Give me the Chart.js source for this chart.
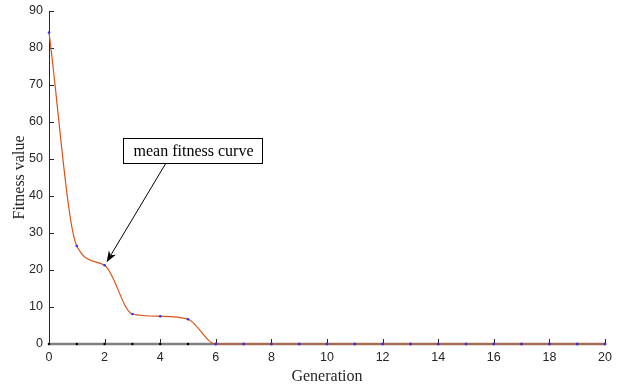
<!DOCTYPE html>
<html>
<head>
<meta charset="utf-8">
<script src="https://cdn.jsdelivr.net/npm/chart.js@4"></script>
<style>
  html, body { margin: 0; padding: 0; background: #fff; }
  #wrap { width: 623px; height: 386px; }
</style>
</head>
<body>
<div id="wrap"><canvas id="fitChart" width="623" height="386"></canvas></div>
<script>
// generations 0..20
var generations = [0, 1, 2, 3, 4, 5, 6, 7, 8, 9, 10, 11, 12, 13, 14, 15, 16, 17, 18, 19, 20];
// mean fitness per generation
var meanFitness = [84.2, 26.5, 21.3, 8.1, 7.5, 6.7, 0, 0, 0, 0, 0, 0, 0, 0, 0, 0, 0, 0, 0, 0, 0];
// best fitness per generation
var bestFitness = [0, 0, 0, 0, 0, 0, 0, 0, 0, 0, 0, 0, 0, 0, 0, 0, 0, 0, 0, 0, 0];
var xTicks = [0, 2, 4, 6, 8, 10, 12, 14, 16, 18, 20];
var yTicks = [0, 10, 20, 30, 40, 50, 60, 70, 80, 90];
var noteText = "mean fitness curve";
var noteGen = 2;

function toPoints(xs, ys) {
    var pts = [];
    for (var i = 0; i < xs.length; i++) {
        pts.push({x: xs[i], y: ys[i]});
    }
    return pts;
}

/**
 * Axis lines, inward ticks and the text arrow
 */
var axesPlugin = {
    id: 'axesPlugin',
    beforeDatasetsDraw: function(chart) {
        var ctx = chart.ctx;
        var xs = chart.scales.x, ys = chart.scales.y;
        var area = chart.chartArea;
        ctx.save();
        ctx.strokeStyle = '#262626';
        ctx.lineWidth = 1;
        ctx.beginPath();
        ctx.moveTo(area.left + 0.5, area.top);
        ctx.lineTo(area.left + 0.5, area.bottom + 0.5);
        ctx.lineTo(area.right, area.bottom + 0.5);
        // inward ticks
        xTicks.forEach(function(v) {
            var px = Math.round(xs.getPixelForValue(v)) + 0.5;
            ctx.moveTo(px, area.bottom);
            ctx.lineTo(px, area.bottom - 5);
        });
        yTicks.forEach(function(v) {
            var py = Math.round(ys.getPixelForValue(v)) + 0.5;
            ctx.moveTo(area.left, py);
            ctx.lineTo(area.left + 5, py);
        });
        ctx.stroke();
        ctx.restore();
    },
    afterDraw: function(chart) {
        var ctx = chart.ctx;
        var xs = chart.scales.x, ys = chart.scales.y;
        // text box
        var bx = 123, by = 138, bw = 139, bh = 25;
        ctx.save();
        ctx.fillStyle = '#fff';
        ctx.fillRect(bx, by, bw, bh);
        ctx.strokeStyle = '#000';
        ctx.lineWidth = 1;
        ctx.strokeRect(bx + 0.5, by + 0.5, bw, bh);
        ctx.fillStyle = '#000';
        ctx.font = '16px "Liberation Serif", "Times New Roman", serif';
        ctx.textAlign = 'center';
        ctx.textBaseline = 'middle';
        ctx.fillText(noteText, bx + bw / 2 + 1, by + bh / 2 + 1);

        // arrow to the curve
        var tx = xs.getPixelForValue(noteGen) + 2;
        var ty = ys.getPixelForValue(meanFitness[noteGen]) - 3;
        var sx = 166, sy = by + bh;
        var ang = Math.atan2(ty - sy, tx - sx);
        ctx.beginPath();
        ctx.moveTo(sx, sy);
        ctx.lineTo(tx - 8 * Math.cos(ang), ty - 8 * Math.sin(ang));
        ctx.stroke();
        ctx.beginPath();
        ctx.moveTo(tx, ty);
        ctx.lineTo(tx - 12 * Math.cos(ang - 0.35), ty - 12 * Math.sin(ang - 0.35));
        ctx.lineTo(tx - 8 * Math.cos(ang), ty - 8 * Math.sin(ang));
        ctx.lineTo(tx - 12 * Math.cos(ang + 0.35), ty - 12 * Math.sin(ang + 0.35));
        ctx.closePath();
        ctx.fill();
        ctx.restore();
    }
};

function makeChart() {
    var ctx = document.getElementById("fitChart").getContext("2d");
    var tickFont = {family: '"Liberation Sans", Helvetica, Arial, sans-serif', size: 12.5};
    var titleFont = {family: '"Liberation Serif", "Times New Roman", serif', size: 16};

    new Chart(ctx, {
        type: 'line',
        data: {
            datasets: [{
                label: 'best fitness',
                data: toPoints(generations, bestFitness),
                borderColor: '#808080',
                borderWidth: 2.5,
                pointRadius: 1.3,
                pointBackgroundColor: '#000',
                pointBorderColor: '#000',
                pointBorderWidth: 0,
                cubicInterpolationMode: 'monotone',
                fill: false,
                clip: false,
                order: 2
            }, {
                label: 'mean fitness',
                data: toPoints(generations, meanFitness),
                borderColor: '#D95319',
                borderWidth: 1.2,
                pointRadius: 1.3,
                pointBackgroundColor: '#3030ff',
                pointBorderColor: '#3030ff',
                pointBorderWidth: 0,
                cubicInterpolationMode: 'monotone',
                fill: false,
                clip: false,
                order: 1
            }]
        },
        options: {
            responsive: false,
            animation: false,
            events: [],
            layout: {padding: {top: 11, right: 18, left: 0, bottom: 0}},
            plugins: {legend: {display: false}, tooltip: {enabled: false}},
            scales: {
                x: {
                    type: 'linear',
                    min: 0, max: 20,
                    border: {display: false},
                    grid: {display: false, drawTicks: false},
                    afterBuildTicks: function(s) { s.ticks = xTicks.map(function(v) { return {value: v}; }); },
                    afterFit: function(s) { s.height = 42; s.paddingLeft = 0; s.paddingRight = 0; },
                    ticks: {color: '#262626', font: tickFont, padding: 6, maxRotation: 0, autoSkip: false},
                    title: {display: true, text: 'Generation', color: '#262626', font: titleFont, padding: {top: 0, bottom: 0}}
                },
                y: {
                    min: 0, max: 90,
                    border: {display: false},
                    grid: {display: false, drawTicks: false},
                    afterBuildTicks: function(s) { s.ticks = yTicks.map(function(v) { return {value: v}; }); },
                    afterFit: function(s) { s.width = 49; s.paddingTop = 0; s.paddingBottom = 0; },
                    ticks: {color: '#262626', font: tickFont, padding: 6, autoSkip: false},
                    title: {display: true, text: 'Fitness value', color: '#262626', font: titleFont, padding: {top: 10, bottom: 0}}
                }
            }
        },
        plugins: [axesPlugin]
    });
}

makeChart();
</script>
</body>
</html>
